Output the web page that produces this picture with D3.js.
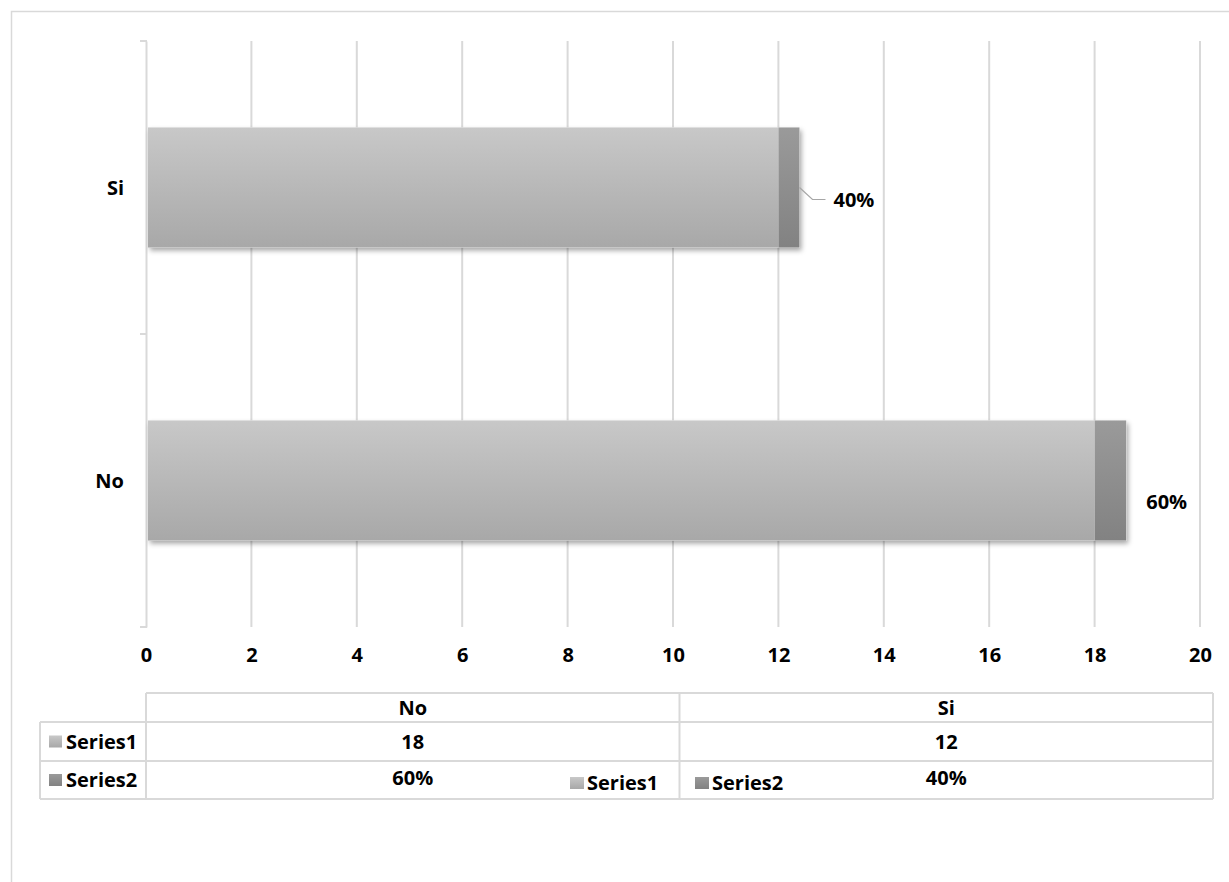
<!DOCTYPE html>
<html><head><meta charset="utf-8">
<script src="https://cdn.jsdelivr.net/npm/d3@7"></script>
<style>
html,body{margin:0;padding:0;background:#fff;}
svg text{font-family:"Open Sans",Lato,sans-serif;font-weight:bold;fill:#000;}
</style></head>
<body>
<svg id="c" width="1229" height="882"></svg>
<script>
const categories = ["No", "Si"];
const series1 = [18, 12];
const series2 = [0.6, 0.4];
const series2Labels = ["60%", "40%"];
const seriesNames = ["Series1", "Series2"];
const xTicks = [0, 2, 4, 6, 8, 10, 12, 14, 16, 18, 20];

const FS = 20;
const svg = d3.select("#c");
const defs = svg.append("defs");
const g1 = defs.append("linearGradient").attr("id","g1").attr("x1",0).attr("y1",0).attr("x2",0).attr("y2",1);
g1.append("stop").attr("offset","0%").attr("stop-color","#c8c8c8");
g1.append("stop").attr("offset","100%").attr("stop-color","#a8a8a8");
const g2 = defs.append("linearGradient").attr("id","g2").attr("x1",0).attr("y1",0).attr("x2",0).attr("y2",1);
g2.append("stop").attr("offset","0%").attr("stop-color","#9a9a9a");
g2.append("stop").attr("offset","100%").attr("stop-color","#828282");
const f = defs.append("filter").attr("id","sh").attr("x","-5%").attr("y","-10%").attr("width","115%").attr("height","130%");
f.append("feDropShadow").attr("dx",2).attr("dy",3).attr("stdDeviation",2.5).attr("flood-color","#000").attr("flood-opacity",0.35);

// outer chart border
svg.append("rect").attr("x",11.5).attr("y",11.5).attr("width",1240).attr("height",900)
  .attr("fill","none").attr("stroke","#d9d9d9").attr("stroke-width",1.5);

const x = d3.scaleLinear().domain([0,20]).range([146,1200]);
const y = d3.scaleBand().domain(["Si","No"]).range([41,627]).padding(0);
const barH = y.bandwidth()*0.41;

// gridlines
svg.append("g").selectAll("line").data(xTicks.slice(1)).join("line")
  .attr("x1",d=>x(d)).attr("x2",d=>x(d)).attr("y1",41).attr("y2",627)
  .attr("stroke","#d9d9d9").attr("stroke-width",2);

// left axis
const yAxis = svg.append("g").attr("transform","translate(146,0)")
  .call(d3.axisLeft(y).tickSize(0).tickPadding(22));
yAxis.select(".domain").attr("stroke","#d9d9d9").attr("stroke-width",2);
yAxis.selectAll("text").attr("font-size",FS).attr("dy","0.35em");
// category boundary ticks
const bounds = [41, ...y.domain().map(d=>y(d)+y.bandwidth())];
svg.append("g").selectAll("line").data(bounds).join("line")
  .attr("x1",140).attr("x2",147).attr("y1",d=>d).attr("y2",d=>d)
  .attr("stroke","#d9d9d9").attr("stroke-width",2);

// x axis labels
const xAxis = svg.append("g").attr("transform","translate(0,627)")
  .call(d3.axisBottom(x).tickValues(xTicks).tickSize(0).tickPadding(21));
xAxis.select(".domain").remove();
xAxis.selectAll("text").attr("font-size",FS);

// bars
const bars = svg.append("g");
categories.forEach((c,i)=>{
  const cy = y(c)+y.bandwidth()/2 - barH/2;
  bars.append("rect").attr("x",x(0)+2).attr("y",cy).attr("width",x(series1[i]+series2[i])-x(0)-2).attr("height",barH)
    .attr("fill","#fff").attr("filter","url(#sh)");
  bars.append("rect").attr("x",x(0)+2).attr("y",cy).attr("width",x(series1[i])-x(0)-2).attr("height",barH).attr("fill","url(#g1)");
  bars.append("rect").attr("x",x(series1[i])).attr("y",cy).attr("width",x(series1[i]+series2[i])-x(series1[i])).attr("height",barH).attr("fill","url(#g2)");
});

// data labels
{
  const i = categories.indexOf("Si");
  const cyc = y("Si")+y.bandwidth()/2;
  const xe = x(series1[i]+series2[i]);
  svg.append("path").attr("d",`M${xe},${cyc} L${xe+13},${cyc+12} L${xe+26},${cyc+12}`)
    .attr("fill","none").attr("stroke","#a6a6a6").attr("stroke-width",1.2);
  svg.append("text").attr("x",xe+34).attr("y",cyc+12).attr("dy","0.35em").attr("font-size",FS).text(series2Labels[i]);
}
{
  const i = categories.indexOf("No");
  const cyc = y("No")+y.bandwidth()/2;
  const xe = x(series1[i]+series2[i]);
  svg.append("text").attr("x",xe+20).attr("y",cyc+21).attr("dy","0.35em").attr("font-size",FS).text(series2Labels[i]);
}

// data table
const tX0 = 146, tX1 = 1213, tLeft = 40;
const rows = [693, 722, 761, 799];
const colW = (tX1-tX0)/categories.length;
const tb = svg.append("g").attr("stroke","#d9d9d9").attr("stroke-width",2).attr("fill","none");
tb.append("line").attr("x1",tX0).attr("x2",tX1).attr("y1",rows[0]).attr("y2",rows[0]);
tb.append("line").attr("x1",tLeft).attr("x2",tX1).attr("y1",rows[1]).attr("y2",rows[1]);
tb.append("line").attr("x1",tLeft).attr("x2",tX1).attr("y1",rows[2]).attr("y2",rows[2]);
tb.append("line").attr("x1",tLeft).attr("x2",tX1).attr("y1",rows[3]).attr("y2",rows[3]);
tb.append("line").attr("x1",tLeft).attr("x2",tLeft).attr("y1",rows[1]).attr("y2",rows[3]);
for (let k=0;k<=categories.length;k++){
  tb.append("line").attr("x1",tX0+k*colW).attr("x2",tX0+k*colW).attr("y1",rows[0]).attr("y2",rows[3]);
}
const tt = svg.append("g");
categories.forEach((c,i)=>{
  const cx = tX0+colW*(i+0.5);
  tt.append("text").attr("x",cx).attr("y",(rows[0]+rows[1])/2).attr("dy","0.35em").attr("text-anchor","middle").attr("font-size",FS).text(c);
  tt.append("text").attr("x",cx).attr("y",(rows[1]+rows[2])/2).attr("dy","0.35em").attr("text-anchor","middle").attr("font-size",FS).text(series1[i]);
  tt.append("text").attr("x",cx).attr("y",(rows[2]+rows[3])/2-2).attr("dy","0.35em").attr("text-anchor","middle").attr("font-size",FS).text(series2Labels[i]);
});
seriesNames.forEach((s,k)=>{
  const cy = (rows[k+1]+rows[k+2])/2;
  tt.append("rect").attr("x",49).attr("y",cy-6).attr("width",13).attr("height",12).attr("fill",k===0?"url(#g1)":"url(#g2)");
  tt.append("text").attr("x",66).attr("y",cy).attr("dy","0.35em").attr("font-size",FS).text(s);
});
// overlapping legend in the table
const lgY = 783;
const lg = [[570, 0], [695, 1]];
lg.forEach(([lx,k])=>{
  tt.append("rect").attr("x",lx).attr("y",lgY-6).attr("width",14).attr("height",12).attr("fill",k===0?"url(#g1)":"url(#g2)");
  tt.append("text").attr("x",lx+17).attr("y",lgY).attr("dy","0.35em").attr("font-size",FS).text(seriesNames[k]);
});
</script>
</body></html>
